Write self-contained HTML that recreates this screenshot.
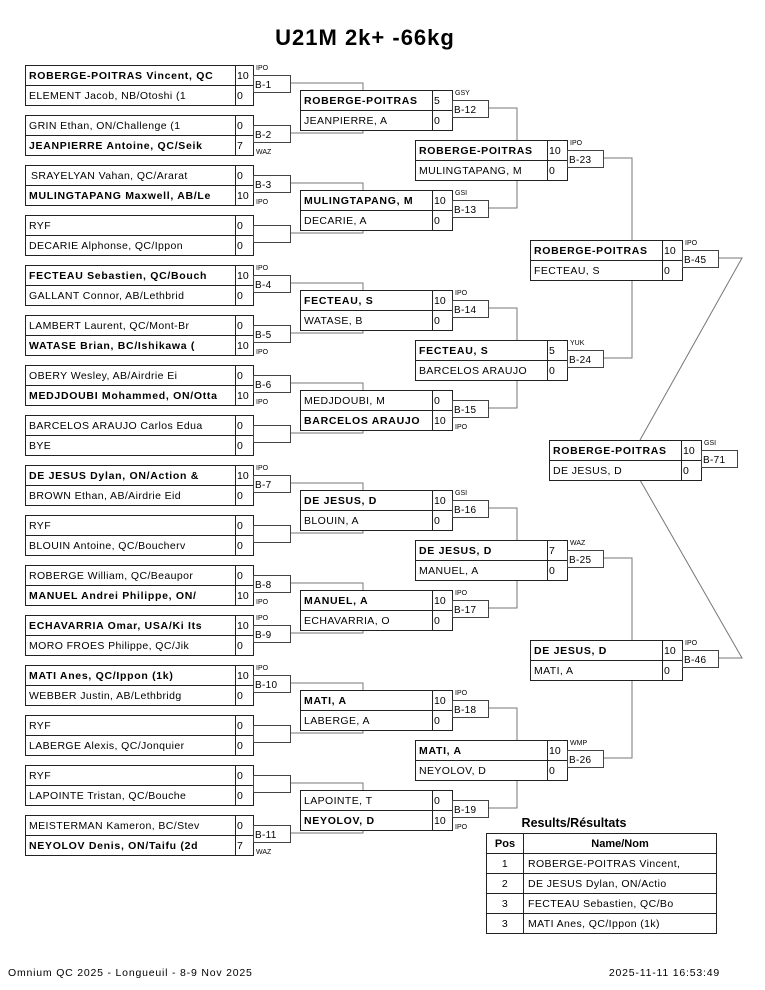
<!DOCTYPE html>
<html><head><meta charset="utf-8"><style>
html,body{margin:0;padding:0;background:#fff;}
svg{display:block;}
text{font-family:"Liberation Sans",Arial,sans-serif;fill:#000;}
.n{font-size:10.5px;letter-spacing:0.4px;}
.b{font-size:10.5px;font-weight:bold;letter-spacing:0.7px;}
.s{font-size:10.5px;}
.m{font-size:10px;letter-spacing:0.3px;}
.l{font-size:7px;}
.c{fill:none;stroke:#777;stroke-width:1;}
</style></head><body>
<svg width="765" height="990" viewBox="0 0 765 990" xmlns="http://www.w3.org/2000/svg">
<defs>
<g id="A"><rect x="0.5" y="0.5" width="228" height="40" fill="none" stroke="#222"/><path d="M210.5 0.5V40.5M0.5 20.5H228.5" stroke="#222"/><rect x="228.5" y="10.5" width="37" height="17" fill="none" stroke="#444"/></g>
<g id="B"><rect x="0.5" y="0.5" width="152" height="40" fill="none" stroke="#222"/><path d="M132.5 0.5V40.5M0.5 20.5H152.5" stroke="#222"/><rect x="152.5" y="10.5" width="36" height="17" fill="none" stroke="#444"/></g>
</defs>
<text x="365" y="45" text-anchor="middle" style="font-size:22px;font-weight:bold;letter-spacing:1px;">U21M 2k+ -66kg</text>

<g class="c">
<path d="M290 83H363V90M290 133H363V130"/>
<path d="M290 183H363V190M290 233H363V230"/>
<path d="M290 283H363V290M290 333H363V330"/>
<path d="M290 383H363V390M290 433H363V430"/>
<path d="M290 483H363V490M290 533H363V530"/>
<path d="M290 583H363V590M290 633H363V630"/>
<path d="M290 683H363V690M290 733H363V730"/>
<path d="M290 783H363V790M290 833H363V830"/>
<path d="M488 108H517V140M488 208H517V180"/>
<path d="M488 308H517V340M488 408H517V380"/>
<path d="M488 508H517V540M488 608H517V580"/>
<path d="M488 708H517V740M488 808H517V780"/>
<path d="M603 158H632V240M603 358H632V280"/>
<path d="M603 558H632V640M603 758H632V680"/>
<path d="M718 258H742L640 440M718 658H742L640 480"/>
</g>

<use href="#A" x="25" y="65"/><use href="#A" x="25" y="115"/><use href="#A" x="25" y="165"/><use href="#A" x="25" y="215"/>
<use href="#A" x="25" y="265"/><use href="#A" x="25" y="315"/><use href="#A" x="25" y="365"/><use href="#A" x="25" y="415"/>
<use href="#A" x="25" y="465"/><use href="#A" x="25" y="515"/><use href="#A" x="25" y="565"/><use href="#A" x="25" y="615"/>
<use href="#A" x="25" y="665"/><use href="#A" x="25" y="715"/><use href="#A" x="25" y="765"/><use href="#A" x="25" y="815"/>

<text class="b" x="29" y="79">ROBERGE-POITRAS Vincent, QC</text><text class="s" x="237" y="79">10</text>
<text class="n" x="29" y="99">ELEMENT Jacob, NB/Otoshi (1</text><text class="s" x="237" y="99">0</text>
<text class="l" x="256" y="70">IPO</text><text class="m" x="255" y="88">B-1</text>

<text class="n" x="29" y="129">GRIN Ethan, ON/Challenge (1</text><text class="s" x="237" y="129">0</text>
<text class="b" x="29" y="149">JEANPIERRE Antoine, QC/Seik</text><text class="s" x="237" y="149">7</text>
<text class="l" x="256" y="154">WAZ</text><text class="m" x="255" y="138">B-2</text>

<text class="n" x="31" y="179">SRAYELYAN Vahan, QC/Ararat</text><text class="s" x="237" y="179">0</text>
<text class="b" x="29" y="199">MULINGTAPANG Maxwell, AB/Le</text><text class="s" x="237" y="199">10</text>
<text class="l" x="256" y="204">IPO</text><text class="m" x="255" y="188">B-3</text>

<text class="n" x="29" y="229">RYF</text><text class="s" x="237" y="229">0</text>
<text class="n" x="29" y="249">DECARIE Alphonse, QC/Ippon</text><text class="s" x="237" y="249">0</text>

<text class="b" x="29" y="279">FECTEAU Sebastien, QC/Bouch</text><text class="s" x="237" y="279">10</text>
<text class="n" x="29" y="299">GALLANT Connor, AB/Lethbrid</text><text class="s" x="237" y="299">0</text>
<text class="l" x="256" y="270">IPO</text><text class="m" x="255" y="288">B-4</text>

<text class="n" x="29" y="329">LAMBERT Laurent, QC/Mont-Br</text><text class="s" x="237" y="329">0</text>
<text class="b" x="29" y="349">WATASE Brian, BC/Ishikawa (</text><text class="s" x="237" y="349">10</text>
<text class="l" x="256" y="354">IPO</text><text class="m" x="255" y="338">B-5</text>

<text class="n" x="29" y="379">OBERY Wesley, AB/Airdrie Ei</text><text class="s" x="237" y="379">0</text>
<text class="b" x="29" y="399">MEDJDOUBI Mohammed, ON/Otta</text><text class="s" x="237" y="399">10</text>
<text class="l" x="256" y="404">IPO</text><text class="m" x="255" y="388">B-6</text>

<text class="n" x="29" y="429">BARCELOS ARAUJO Carlos Edua</text><text class="s" x="237" y="429">0</text>
<text class="n" x="29" y="449">BYE</text><text class="s" x="237" y="449">0</text>

<text class="b" x="29" y="479">DE JESUS Dylan, ON/Action &amp;</text><text class="s" x="237" y="479">10</text>
<text class="n" x="29" y="499">BROWN Ethan, AB/Airdrie Eid</text><text class="s" x="237" y="499">0</text>
<text class="l" x="256" y="470">IPO</text><text class="m" x="255" y="488">B-7</text>

<text class="n" x="29" y="529">RYF</text><text class="s" x="237" y="529">0</text>
<text class="n" x="29" y="549">BLOUIN Antoine, QC/Boucherv</text><text class="s" x="237" y="549">0</text>

<text class="n" x="29" y="579">ROBERGE William, QC/Beaupor</text><text class="s" x="237" y="579">0</text>
<text class="b" x="29" y="599">MANUEL Andrei Philippe, ON/</text><text class="s" x="237" y="599">10</text>
<text class="l" x="256" y="604">IPO</text><text class="m" x="255" y="588">B-8</text>

<text class="b" x="29" y="629">ECHAVARRIA Omar, USA/Ki Its</text><text class="s" x="237" y="629">10</text>
<text class="n" x="29" y="649">MORO FROES Philippe, QC/Jik</text><text class="s" x="237" y="649">0</text>
<text class="l" x="256" y="620">IPO</text><text class="m" x="255" y="638">B-9</text>

<text class="b" x="29" y="679">MATI Anes, QC/Ippon (1k)</text><text class="s" x="237" y="679">10</text>
<text class="n" x="29" y="699">WEBBER Justin, AB/Lethbridg</text><text class="s" x="237" y="699">0</text>
<text class="l" x="256" y="670">IPO</text><text class="m" x="255" y="688">B-10</text>

<text class="n" x="29" y="729">RYF</text><text class="s" x="237" y="729">0</text>
<text class="n" x="29" y="749">LABERGE Alexis, QC/Jonquier</text><text class="s" x="237" y="749">0</text>

<text class="n" x="29" y="779">RYF</text><text class="s" x="237" y="779">0</text>
<text class="n" x="29" y="799">LAPOINTE Tristan, QC/Bouche</text><text class="s" x="237" y="799">0</text>

<text class="n" x="29" y="829">MEISTERMAN Kameron, BC/Stev</text><text class="s" x="237" y="829">0</text>
<text class="b" x="29" y="849">NEYOLOV Denis, ON/Taifu (2d</text><text class="s" x="237" y="849">7</text>
<text class="l" x="256" y="854">WAZ</text><text class="m" x="255" y="838">B-11</text>

<use href="#B" x="300" y="90"/><use href="#B" x="300" y="190"/><use href="#B" x="300" y="290"/><use href="#B" x="300" y="390"/>
<use href="#B" x="300" y="490"/><use href="#B" x="300" y="590"/><use href="#B" x="300" y="690"/><use href="#B" x="300" y="790"/>

<text class="b" x="304" y="104">ROBERGE-POITRAS</text><text class="s" x="434" y="104">5</text>
<text class="n" x="304" y="124">JEANPIERRE, A</text><text class="s" x="434" y="124">0</text>
<text class="l" x="455" y="95">GSY</text><text class="m" x="454" y="113">B-12</text>

<text class="b" x="304" y="204">MULINGTAPANG, M</text><text class="s" x="434" y="204">10</text>
<text class="n" x="304" y="224">DECARIE, A</text><text class="s" x="434" y="224">0</text>
<text class="l" x="455" y="195">GSI</text><text class="m" x="454" y="213">B-13</text>

<text class="b" x="304" y="304">FECTEAU, S</text><text class="s" x="434" y="304">10</text>
<text class="n" x="304" y="324">WATASE, B</text><text class="s" x="434" y="324">0</text>
<text class="l" x="455" y="295">IPO</text><text class="m" x="454" y="313">B-14</text>

<text class="n" x="304" y="404">MEDJDOUBI, M</text><text class="s" x="434" y="404">0</text>
<text class="b" x="304" y="424">BARCELOS ARAUJO</text><text class="s" x="434" y="424">10</text>
<text class="l" x="455" y="429">IPO</text><text class="m" x="454" y="413">B-15</text>

<text class="b" x="304" y="504">DE JESUS, D</text><text class="s" x="434" y="504">10</text>
<text class="n" x="304" y="524">BLOUIN, A</text><text class="s" x="434" y="524">0</text>
<text class="l" x="455" y="495">GSI</text><text class="m" x="454" y="513">B-16</text>

<text class="b" x="304" y="604">MANUEL, A</text><text class="s" x="434" y="604">10</text>
<text class="n" x="304" y="624">ECHAVARRIA, O</text><text class="s" x="434" y="624">0</text>
<text class="l" x="455" y="595">IPO</text><text class="m" x="454" y="613">B-17</text>

<text class="b" x="304" y="704">MATI, A</text><text class="s" x="434" y="704">10</text>
<text class="n" x="304" y="724">LABERGE, A</text><text class="s" x="434" y="724">0</text>
<text class="l" x="455" y="695">IPO</text><text class="m" x="454" y="713">B-18</text>

<text class="n" x="304" y="804">LAPOINTE, T</text><text class="s" x="434" y="804">0</text>
<text class="b" x="304" y="824">NEYOLOV, D</text><text class="s" x="434" y="824">10</text>
<text class="l" x="455" y="829">IPO</text><text class="m" x="454" y="813">B-19</text>

<use href="#B" x="415" y="140"/><use href="#B" x="415" y="340"/><use href="#B" x="415" y="540"/><use href="#B" x="415" y="740"/>

<text class="b" x="419" y="154">ROBERGE-POITRAS</text><text class="s" x="549" y="154">10</text>
<text class="n" x="419" y="174">MULINGTAPANG, M</text><text class="s" x="549" y="174">0</text>
<text class="l" x="570" y="145">IPO</text><text class="m" x="569" y="163">B-23</text>

<text class="b" x="419" y="354">FECTEAU, S</text><text class="s" x="549" y="354">5</text>
<text class="n" x="419" y="374">BARCELOS ARAUJO</text><text class="s" x="549" y="374">0</text>
<text class="l" x="570" y="345">YUK</text><text class="m" x="569" y="363">B-24</text>

<text class="b" x="419" y="554">DE JESUS, D</text><text class="s" x="549" y="554">7</text>
<text class="n" x="419" y="574">MANUEL, A</text><text class="s" x="549" y="574">0</text>
<text class="l" x="570" y="545">WAZ</text><text class="m" x="569" y="563">B-25</text>

<text class="b" x="419" y="754">MATI, A</text><text class="s" x="549" y="754">10</text>
<text class="n" x="419" y="774">NEYOLOV, D</text><text class="s" x="549" y="774">0</text>
<text class="l" x="570" y="745">WMP</text><text class="m" x="569" y="763">B-26</text>

<use href="#B" x="530" y="240"/><use href="#B" x="530" y="640"/>
<text class="b" x="534" y="254">ROBERGE-POITRAS</text><text class="s" x="664" y="254">10</text>
<text class="n" x="534" y="274">FECTEAU, S</text><text class="s" x="664" y="274">0</text>
<text class="l" x="685" y="245">IPO</text><text class="m" x="684" y="263">B-45</text>

<text class="b" x="534" y="654">DE JESUS, D</text><text class="s" x="664" y="654">10</text>
<text class="n" x="534" y="674">MATI, A</text><text class="s" x="664" y="674">0</text>
<text class="l" x="685" y="645">IPO</text><text class="m" x="684" y="663">B-46</text>

<use href="#B" x="549" y="440"/>
<text class="b" x="553" y="454">ROBERGE-POITRAS</text><text class="s" x="683" y="454">10</text>
<text class="n" x="553" y="474">DE JESUS, D</text><text class="s" x="683" y="474">0</text>
<text class="l" x="704" y="445">GSI</text><text class="m" x="703" y="463">B-71</text>

<text x="574" y="827" text-anchor="middle" style="font-size:12.5px;font-weight:bold;">Results/Résultats</text>
<g stroke="#222" fill="none">
<rect x="486.5" y="833.5" width="230" height="100"/>
<path d="M523.5 833.5V933.5M486.5 853.5H716.5M486.5 873.5H716.5M486.5 893.5H716.5M486.5 913.5H716.5"/>
</g>
<text x="505" y="847" text-anchor="middle" style="font-size:11px;font-weight:bold;">Pos</text>
<text x="620" y="847" text-anchor="middle" style="font-size:11px;font-weight:bold;">Name/Nom</text>
<text class="n" x="505" y="867" text-anchor="middle">1</text><text class="n" x="528" y="867">ROBERGE-POITRAS Vincent,</text>
<text class="n" x="505" y="887" text-anchor="middle">2</text><text class="n" x="528" y="887">DE JESUS Dylan, ON/Actio</text>
<text class="n" x="505" y="907" text-anchor="middle">3</text><text class="n" x="528" y="907">FECTEAU Sebastien, QC/Bo</text>
<text class="n" x="505" y="927" text-anchor="middle">3</text><text class="n" x="528" y="927">MATI Anes, QC/Ippon (1k)</text>

<text x="8" y="976" style="font-size:10.5px;letter-spacing:0.8px;">Omnium QC 2025 - Longueuil - 8-9 Nov 2025</text>
<text x="720" y="976" text-anchor="end" style="font-size:10.5px;letter-spacing:0.8px;">2025-11-11 16:53:49</text>
</svg>
</body></html>
